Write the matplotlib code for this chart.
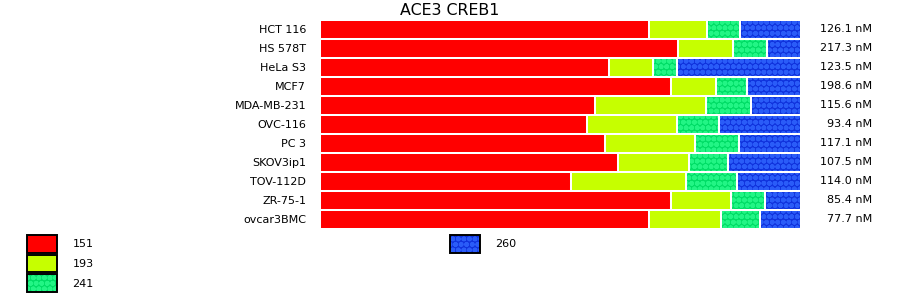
import numpy as np
import matplotlib
matplotlib.use('Agg')
from matplotlib import pyplot as plt
from matplotlib.patches import Patch
from matplotlib.legend_handler import HandlerTuple

title = 'ACE3 CREB1'
cell_lines = ['HCT 116', 'HS 578T', 'HeLa S3', 'MCF7', 'MDA-MB-231', 'OVC-116',
              'PC 3', 'SKOV3ip1', 'TOV-112D', 'ZR-75-1', 'ovcar3BMC']
totals = ['126.1 nM', '217.3 nM', '123.5 nM', '198.6 nM', '115.6 nM', '93.4 nM',
          '117.1 nM', '107.5 nM', '114.0 nM', '85.4 nM', '77.7 nM']
series = ['151', '193', '241', '260']

# share of each series (percent) per cell line
s151 = [68.4, 74.4, 60.1, 73.0, 57.1, 55.5, 59.3, 62.0, 52.2, 73.0, 68.4]
s193 = [12.1, 11.4, 9.1, 9.4, 23.1, 18.7, 18.7, 14.8, 23.9, 12.5, 15.0]
s241 = [6.9, 7.1, 5.0, 6.4, 9.4, 8.7, 9.1, 8.1, 10.6, 7.1, 8.1]
s260 = [12.7, 7.1, 25.8, 11.2, 10.4, 17.0, 12.9, 15.2, 13.3, 7.5, 8.5]

colors = ['#ff0000', '#c6ff00', '#00dd66', '#1033dd']
hatch_colors = [None, None, '#22f585', '#2a5cf8']
hatches = [None, None, 'ooo', 'ooo']

plt.rcParams['hatch.linewidth'] = 1.8

fig = plt.figure(figsize=(9, 2.99), dpi=100)
ax = fig.add_axes([320/900, 1-228.5/299, 481/900, 209/299])

data = np.array([s151, s193, s241, s260])
data = data / data.sum(axis=0) * 100
y = np.arange(len(cell_lines))
left = np.zeros(len(cell_lines))
for i in range(4):
    ax.barh(y, data[i], left=left, height=1.0, color=colors[i], linewidth=0)
    if hatches[i]:
        ax.barh(y, data[i], left=left, height=1.0, color='none',
                edgecolor=hatch_colors[i], hatch=hatches[i], linewidth=0)
    ax.barh(y, data[i], left=left, height=1.0, color='none',
            edgecolor='white', linewidth=1.45)
    left += data[i]

ax.set_xlim(0, 100)
ax.set_ylim(len(cell_lines)-0.5, -0.5)
ax.set_yticks(y)
ax.set_yticklabels(cell_lines, fontsize=8)
ax.tick_params(axis='y', length=0, pad=10)
ax.set_xticks([])
for s in ax.spines.values():
    s.set_visible(False)

for yi, t in zip(y, totals):
    ax.annotate(t, xy=(1, yi), xycoords=('axes fraction', 'data'),
                xytext=(51, 0), textcoords='offset points',
                ha='right', va='center', fontsize=8)

fig.text(450/900, 1-10.5/299, title, ha='center', va='center', fontsize=11.4)

handles = []
for i in range(4):
    fill = Patch(facecolor=colors[i], edgecolor=hatch_colors[i] or colors[i],
                 hatch=hatches[i], linewidth=0)
    border = Patch(facecolor='none', edgecolor='black', linewidth=1.4)
    handles.append((fill, border))

leg_kw = dict(frameon=False, fontsize=8, handlelength=2.7, handleheight=2.1,
              labelspacing=0.15, handletextpad=1.4, borderpad=0, borderaxespad=0,
              handler_map={tuple: HandlerTuple(ndivide=1, pad=0)},
              loc='upper left')
leg1 = fig.legend(handles[:3], series[:3], bbox_to_anchor=(27/900, 1-235/299), **leg_kw)
leg2 = fig.legend(handles[3:], series[3:], bbox_to_anchor=(450/900, 1-235/299), **leg_kw)

fig.savefig('out.png', dpi=100)
